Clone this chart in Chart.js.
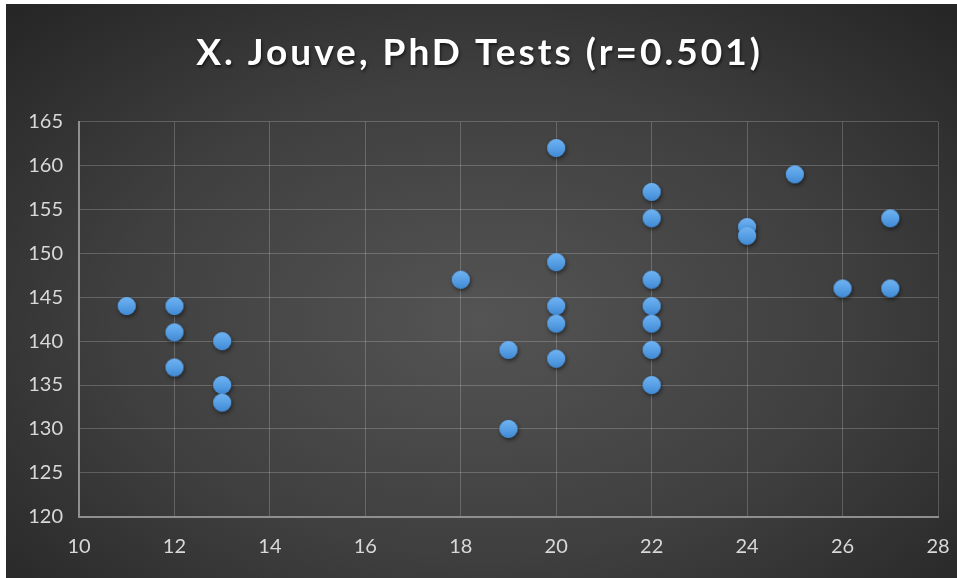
<!DOCTYPE html>
<html>
<head>
<meta charset="utf-8">
<script src="https://cdn.jsdelivr.net/npm/chart.js@4.4.1/dist/chart.umd.min.js"></script>
<style>
  html, body { margin: 0; padding: 0; background: #ffffff; }
  #wrap {
    position: absolute; left: 6px; top: 4px; width: 951px; height: 574px;
    background: radial-gradient(ellipse 70% 75% at 50% 55%, #545454 0%, #3f3f3f 55%, #262626 100%);
  }
  canvas { display: block; }
</style>
</head>
<body>
<div id="wrap"><canvas id="c" width="951" height="574"></canvas></div>
<script>
const titleText = 'X. Jouve, PhD Tests (r=0.501)';
const xValues = [11, 12, 12, 12, 13, 13, 13, 18, 19, 19, 20, 20, 20, 20, 20, 22, 22, 22, 22, 22, 22, 22, 24, 24, 25, 26, 27, 27];
const yValues = [144, 144, 141, 137, 140, 135, 133, 147, 139, 130, 162, 149, 144, 142, 138, 157, 154, 147, 144, 142, 139, 135, 153, 152, 159, 146, 154, 146];
const xTicks = [10, 12, 14, 16, 18, 20, 22, 24, 26, 28];
const yTicks = [120, 125, 130, 135, 140, 145, 150, 155, 160, 165];

const points = xValues.map((x, i) => ({ x: x, y: yValues[i] }));

function makeMarker() {
  const s = 30, r = 9;
  const cv = document.createElement('canvas');
  cv.width = s; cv.height = s;
  const g = cv.getContext('2d');
  const cx = s / 2, cy = s / 2;
  g.save();
  g.shadowColor = 'rgba(0,0,0,0.55)';
  g.shadowBlur = 4;
  g.shadowOffsetX = 1;
  g.shadowOffsetY = 2;
  g.beginPath();
  g.arc(cx, cy, r, 0, Math.PI * 2);
  g.fillStyle = '#4b92dc';
  g.fill();
  g.restore();
  const grad = g.createLinearGradient(0, cy - r, 0, cy + r);
  grad.addColorStop(0, '#70b3f2');
  grad.addColorStop(0.5, '#58a0e6');
  grad.addColorStop(1, '#418ad4');
  g.beginPath();
  g.arc(cx, cy, r, 0, Math.PI * 2);
  g.fillStyle = grad;
  g.fill();
  return cv;
}
const marker = makeMarker();

const tickFont = { family: 'Lato, "Open Sans", sans-serif', size: 20 };

const titlePlugin = {
  id: 'spacedTitle',
  afterDraw(chart) {
    const ctx = chart.ctx;
    ctx.save();
    ctx.font = 'bold 37px Lato, "Open Sans", sans-serif';
    if ('letterSpacing' in ctx) ctx.letterSpacing = '3px';
    ctx.textAlign = 'center';
    ctx.textBaseline = 'alphabetic';
    ctx.fillStyle = '#ffffff';
    ctx.shadowColor = 'rgba(0,0,0,0.6)';
    ctx.shadowBlur = 3;
    ctx.shadowOffsetX = 1;
    ctx.shadowOffsetY = 2;
    ctx.fillText(titleText, chart.width / 2 - 2, 61);
    ctx.restore();
  }
};

new Chart(document.getElementById('c'), {
  type: 'scatter',
  data: {
    datasets: [{
      data: points,
      pointStyle: marker,
      pointRadius: 9,
      pointHoverRadius: 9
    }]
  },
  options: {
    responsive: false,
    animation: false,
    devicePixelRatio: 1,
    layout: { padding: { left: 0, right: 19, top: 117.7, bottom: 0 } },
    plugins: {
      legend: { display: false },
      tooltip: { enabled: false },
      title: { display: false }
    },
    scales: {
      x: {
        type: 'linear',
        min: 10, max: 28,
        afterBuildTicks: (axis) => { axis.ticks = xTicks.map(v => ({ value: v })); },
        afterFit: (axis) => { axis.height = 61.3; axis.paddingLeft = 0; axis.paddingRight = 0; },
        ticks: { color: '#d9d9d9', font: tickFont, padding: 18 },
        grid: { color: 'rgba(255,255,255,0.2)', lineWidth: 1, drawTicks: false },
        border: { color: '#8f8f8f', width: 2 }
      },
      y: {
        type: 'linear',
        min: 120, max: 165,
        afterBuildTicks: (axis) => { axis.ticks = yTicks.map(v => ({ value: v })); },
        afterFit: (axis) => { axis.width = 73; axis.paddingTop = 0; axis.paddingBottom = 0; },
        ticks: { color: '#d9d9d9', font: tickFont, padding: 16 },
        grid: { color: 'rgba(255,255,255,0.2)', lineWidth: 1, drawTicks: false },
        border: { color: '#8f8f8f', width: 2 }
      }
    }
  },
  plugins: [titlePlugin]
});
</script>
</body>
</html>
